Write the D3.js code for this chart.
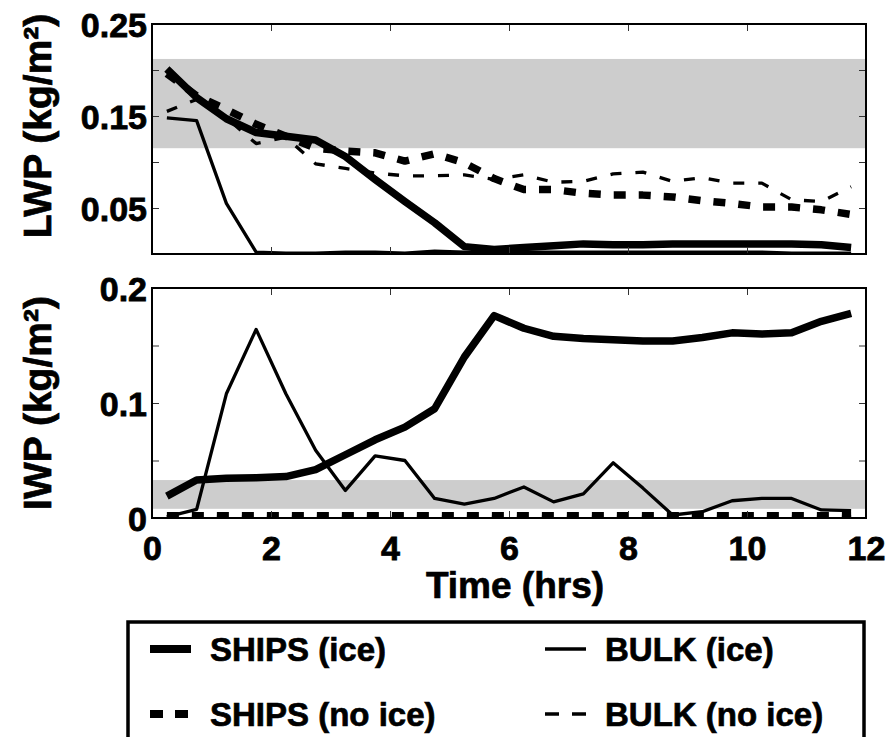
<!DOCTYPE html>
<html>
<head>
<meta charset="utf-8">
<script src="https://cdn.jsdelivr.net/npm/d3@7"></script>
<style>
  html, body { margin: 0; padding: 0; background: #fff; }
  svg { display: block; }
  text { font-family: "Liberation Sans", Arial, Helvetica, sans-serif; font-weight: bold; fill: #000; stroke: #000; stroke-width: 0.7px; }
</style>
</head>
<body>
<svg id="chart" width="896" height="737"></svg>
<script>
// ---------------- DATA ----------------
const times = [0.25, 0.75, 1.25, 1.75, 2.25, 2.75, 3.25, 3.75, 4.25, 4.75, 5.25, 5.75,
               6.25, 6.75, 7.25, 7.75, 8.25, 8.75, 9.25, 9.75, 10.25, 10.75, 11.25, 11.75];

// Liquid water path (kg/m^2)
const shipsIceLWP   = [0.201, 0.170, 0.147, 0.132, 0.128, 0.124, 0.106, 0.081, 0.057, 0.034, 0.008, 0.005,
                       0.007, 0.009, 0.011, 0.010, 0.010, 0.011, 0.011, 0.011, 0.011, 0.011, 0.010, 0.007];
const shipsNoIceLWP = [0.196, 0.172, 0.157, 0.141, 0.128, 0.115, 0.112, 0.110, 0.101, 0.109, 0.099, 0.082,
                       0.070, 0.070, 0.066, 0.064, 0.064, 0.062, 0.058, 0.055, 0.051, 0.051, 0.048, 0.043];
const bulkIceLWP    = [0.148, 0.145, 0.055, 0.002, 0.001, 0.001, 0.002, 0.002, 0.001, 0.003, 0.002, 0.001,
                       0.002, 0.002, 0.002, 0.002, 0.002, 0.002, 0.002, 0.002, 0.002, 0.001, 0.001, 0.001];
const bulkNoIceLWP  = [0.155, 0.168, 0.148, 0.120, 0.127, 0.098, 0.093, 0.088, 0.085, 0.085, 0.086, 0.081,
                       0.086, 0.078, 0.079, 0.087, 0.089, 0.079, 0.083, 0.077, 0.077, 0.059, 0.057, 0.073];

// Ice water path (kg/m^2)
const shipsIceIWP   = [0.019, 0.033, 0.0345, 0.035, 0.036, 0.042, 0.055, 0.068, 0.079, 0.095, 0.140, 0.176,
                       0.165, 0.158, 0.156, 0.155, 0.154, 0.154, 0.157, 0.161, 0.160, 0.161, 0.171, 0.178];
const shipsNoIceIWP = [0.002, 0.002, 0.002, 0.002, 0.002, 0.002, 0.002, 0.002, 0.002, 0.002, 0.002, 0.002,
                       0.002, 0.002, 0.002, 0.002, 0.002, 0.002, 0.002, 0.002, 0.002, 0.002, 0.002, 0.002];
const bulkIceIWP    = [0.001, 0.0075, 0.108, 0.164, 0.108, 0.059, 0.024, 0.054, 0.050, 0.017, 0.012, 0.017,
                       0.027, 0.014, 0.021, 0.048, 0.026, 0.0026, 0.0055, 0.015, 0.017, 0.017, 0.007, 0.0064];
const bulkNoIceIWP  = [0.001, 0.001, 0.001, 0.001, 0.001, 0.001, 0.001, 0.001, 0.001, 0.001, 0.001, 0.001,
                       0.001, 0.001, 0.001, 0.001, 0.001, 0.001, 0.001, 0.001, 0.001, 0.001, 0.001, 0.001];

// Observed ranges (grey bands)
const lwpBand = [0.115, 0.212];
const iwpBand = [0.008, 0.033];

// Axis ticks and labels
const xTicks = [0, 2, 4, 6, 8, 10, 12];
const xTickLabels = ["0", "2", "4", "6", "8", "10", "12"];
const lwpTicks = [0, 0.05, 0.10, 0.15, 0.20, 0.25];
const lwpTickLabels = ["", "0.05", "", "0.15", "", "0.25"];
const iwpTicks = [0, 0.05, 0.10, 0.15, 0.20];
const iwpTickLabels = ["0", "", "0.1", "", "0.2"];

const seriesNames = ["SHIPS (ice)", "BULK (ice)", "SHIPS (no ice)", "BULK (no ice)"];
const xTitle = "Time (hrs)";
const lwpTitle = "LWP (kg/m²)";
const iwpTitle = "IWP (kg/m²)";

// ---------------- STYLES ----------------
const styles = {
  "SHIPS (ice)":    { width: 7.5, dash: null,    legendWidth: 8,   legendDash: null },
  "BULK (ice)":     { width: 3.3, dash: null,    legendWidth: 3.3, legendDash: null },
  "SHIPS (no ice)": { width: 7.5, dash: "12,13", legendWidth: 8,   legendDash: "13,12" },
  "BULK (no ice)":  { width: 3.3, dash: "11,14", legendWidth: 3.3, legendDash: "14,13" }
};

// ---------------- LAYOUT ----------------
const svg = d3.select("#chart");
const left = 152, right = 866;
const panels = [
  { id: "lwp", top: 24, bottom: 254, domain: [0, 0.25], ticks: lwpTicks, labels: lwpTickLabels,
    band: lwpBand, title: lwpTitle, titlePos: [51, 126], showX: false,
    series: [["SHIPS (no ice)", shipsNoIceLWP], ["SHIPS (ice)", shipsIceLWP],
             ["BULK (ice)", bulkIceLWP], ["BULK (no ice)", bulkNoIceLWP]] },
  { id: "iwp", top: 288, bottom: 518, domain: [0, 0.2], ticks: iwpTicks, labels: iwpTickLabels,
    band: iwpBand, title: iwpTitle, titlePos: [51, 403], showX: true,
    series: [["SHIPS (ice)", shipsIceIWP], ["BULK (ice)", bulkIceIWP],
             ["BULK (no ice)", bulkNoIceIWP], ["SHIPS (no ice)", shipsNoIceIWP]] }
];

const x = d3.scaleLinear().domain([0, 12]).range([left, right]);
const tickLen = 7;

panels.forEach(p => {
  const y = d3.scaleLinear().domain(p.domain).range([p.bottom, p.top]);
  const g = svg.append("g");

  g.append("clipPath").attr("id", "clip-" + p.id)
    .append("rect").attr("x", left).attr("y", p.top)
    .attr("width", right - left).attr("height", p.bottom - p.top);

  // grey band
  g.append("rect")
    .attr("x", left).attr("width", right - left)
    .attr("y", y(p.band[1])).attr("height", y(p.band[0]) - y(p.band[1]))
    .attr("fill", "#cdcdcd");

  // lines
  const line = d3.line().x((d, i) => x(times[i])).y(d => y(d));
  const lg = g.append("g").attr("clip-path", "url(#clip-" + p.id + ")");
  p.series.forEach(([name, vals]) => {
    const st = styles[name];
    lg.append("path")
      .datum(vals)
      .attr("d", line)
      .attr("fill", "none")
      .attr("stroke", "#000")
      .attr("stroke-width", st.width)
      .attr("stroke-linejoin", "round")
      .attr("stroke-dasharray", st.dash);
  });

  // axes (inward ticks on all four sides)
  const yFmt = v => { const i = p.ticks.indexOf(v); return i >= 0 ? p.labels[i] : ""; };
  const ax = [
    g.append("g").attr("transform", `translate(${left},0)`)
      .call(d3.axisLeft(y).tickValues(p.ticks).tickFormat(yFmt).tickSize(-tickLen).tickPadding(5)),
    g.append("g").attr("transform", `translate(${right},0)`)
      .call(d3.axisRight(y).tickValues(p.ticks).tickFormat("").tickSize(-tickLen)),
    g.append("g").attr("transform", `translate(0,${p.top})`)
      .call(d3.axisTop(x).tickValues(xTicks).tickFormat("").tickSize(-tickLen)),
    g.append("g").attr("transform", `translate(0,${p.bottom})`)
      .call(d3.axisBottom(x).tickValues(xTicks)
        .tickFormat(p.showX ? (v => xTickLabels[xTicks.indexOf(v)]) : "")
        .tickSize(-tickLen).tickPadding(18))
  ];
  ax.forEach(a => {
    a.select(".domain").remove();
    a.selectAll(".tick line").attr("stroke", "#333").attr("stroke-width", 1);
    a.selectAll(".tick text")
      .style("font-family", '"Liberation Sans", Arial, Helvetica, sans-serif')
      .style("font-weight", "bold")
      .style("font-size", "34px")
      .style("stroke", "#000").style("stroke-width", "0.8px")
      .attr("fill", "#000");
  });
  ax[0].selectAll(".tick text").attr("dy", "0.36em");

  // frame
  g.append("rect")
    .attr("x", left).attr("y", p.top)
    .attr("width", right - left).attr("height", p.bottom - p.top)
    .attr("fill", "none").attr("stroke", "#000").attr("stroke-width", 2);

  // y title
  g.append("text")
    .attr("transform", `translate(${p.titlePos[0]},${p.titlePos[1]}) rotate(-90)`)
    .attr("text-anchor", "middle")
    .style("font-size", "39px")
    .text(p.title);
});

// x title
svg.append("text")
  .attr("x", 515).attr("y", 598)
  .attr("text-anchor", "middle")
  .style("font-size", "37px")
  .text(xTitle);

// ---------------- LEGEND ----------------
const lg = svg.append("g");
lg.append("rect")
  .attr("x", 128).attr("y", 622).attr("width", 736).attr("height", 200)
  .attr("fill", "#fff").attr("stroke", "#000").attr("stroke-width", 3.5);

const legendItems = [
  { name: seriesNames[0], lx: 150, tx: 210, y: 649 },
  { name: seriesNames[1], lx: 545, tx: 605, y: 649 },
  { name: seriesNames[2], lx: 150, tx: 210, y: 714 },
  { name: seriesNames[3], lx: 545, tx: 605, y: 714 }
];
legendItems.forEach(it => {
  const st = styles[it.name];
  lg.append("line")
    .attr("x1", it.lx).attr("x2", it.lx + 41)
    .attr("y1", it.y).attr("y2", it.y)
    .attr("stroke", "#000")
    .attr("stroke-width", st.legendWidth)
    .attr("stroke-dasharray", st.legendDash);
  lg.append("text")
    .attr("x", it.tx).attr("y", it.y + 12)
    .style("font-size", "33px")
    .text(it.name);
});
</script>
</body>
</html>
